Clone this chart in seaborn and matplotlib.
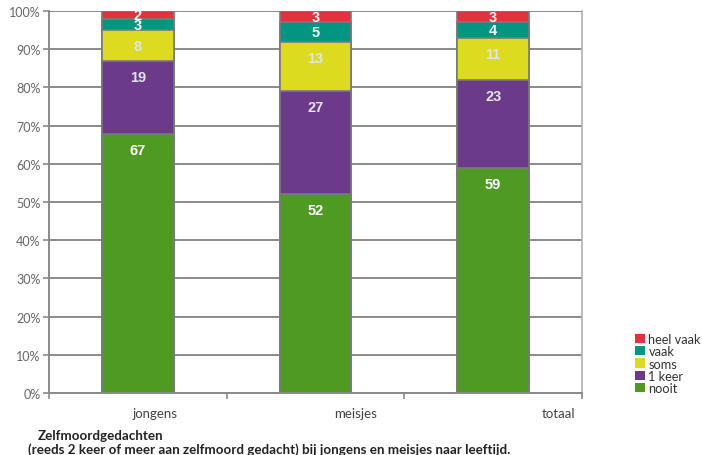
import numpy as np
import pandas as pd
import matplotlib
matplotlib.use("Agg")
import matplotlib.pyplot as plt
import seaborn as sns
from matplotlib.patches import Patch

categories = ["jongens", "meisjes", "totaal"]
series = ["nooit", "1 keer", "soms", "vaak", "heel vaak"]
nooit = [67, 52, 59]
een_keer = [19, 27, 23]
soms = [8, 13, 11]
vaak = [3, 5, 4]
heel_vaak = [2, 3, 3]
colors = ["#4e9a23", "#6b3a89", "#dcdb1f", "#009682", "#e4323c"]
label_colors = ["white", "#dde5f1", "#dde5f1", "white", "white"]
yticks = [0, 10, 20, 30, 40, 50, 60, 70, 80, 90, 100]
caption1 = "Zelfmoordgedachten"
caption2 = "(reeds 2 keer of meer aan zelfmoord gedacht) bij jongens en meisjes naar leeftijd."

sns.set_theme(style="white")
plt.rcParams['font.family'] = ['Lato', 'DejaVu Sans']

values = np.array([nooit, een_keer, soms, vaak, heel_vaak], dtype=float)
pct = values / values.sum(axis=0) * 100
tops = np.cumsum(pct, axis=0)

fig = plt.figure(figsize=(7.02, 4.56), dpi=100)
ax = fig.add_axes([49/702, 1-394/456, (582-49)/702, (394-12)/456])

grid_c = "#8a8a8a"
for yv in yticks:
    ax.axhline(yv, color=grid_c, lw=1.4, zorder=0)

for i in range(len(series) - 1, -1, -1):
    df = pd.DataFrame({"cat": categories, "top": tops[i]})
    sns.barplot(data=df, x="cat", y="top", order=categories, color=colors[i],
                width=0.405, edgecolor="#7a7a7a", linewidth=1.2, saturation=1,
                ax=ax, zorder=2)

px_per_pct = 382 / 100
for i in range(len(series)):
    for j in range(len(categories)):
        off = min(16 / px_per_pct, pct[i, j] / 2)
        ax.text(j, tops[i, j] - off, f"{int(values[i, j])}", ha="center", va="center",
                color=label_colors[i], fontsize=10.5, fontweight="bold",
                family=["Liberation Sans", "DejaVu Sans"], zorder=5)

ax.set_xlim(-0.5, 2.5)
ax.set_ylim(0, 100)
ax.set_xlabel("")
ax.set_ylabel("")
ax.set_yticks(yticks)
ax.set_yticklabels([f"{v}%" for v in yticks], color="#666666", fontsize=9)
ax.tick_params(axis="y", which="major", direction="out", length=4, width=1.2,
               color=grid_c, pad=2, left=True)
ax.set_xticks([-0.5, 0.5, 1.5, 2.5])
ax.set_xticklabels([])
ax.tick_params(axis="x", which="major", direction="out", length=4, width=1.2,
               color=grid_c, bottom=True)
ax.set_xticks([0.095, 1.225, 2.37], minor=True)
ax.set_xticklabels(categories, minor=True, color="#444444", fontsize=9.5)
ax.tick_params(axis="x", which="minor", length=0, pad=10)

for s in ["left", "bottom"]:
    ax.spines[s].set_color(grid_c)
    ax.spines[s].set_linewidth(1.4)
ax.spines["right"].set_color("#b0b0b0")
ax.spines["right"].set_linewidth(1.2)
ax.spines["top"].set_visible(False)

handles = [Patch(facecolor=colors[i], edgecolor="none", label=series[i])
           for i in range(len(series) - 1, -1, -1)]
fig.legend(handles=handles, loc="upper left", bbox_to_anchor=(635/702, 1-334/456),
           frameon=False, fontsize=9.2, handlelength=0.75, handleheight=0.75,
           labelspacing=0.02, handletextpad=0.3, borderaxespad=0, borderpad=0,
           labelcolor="#333333")

fig.text(38/702, 1-436/456, caption1, fontsize=9.6, fontweight="bold", color="#222222",
         va="center", ha="left")
fig.text(28/702, 1-450/456, caption2, fontsize=9.6, fontweight="bold", color="#222222",
         va="center", ha="left")

fig.savefig("out.png", dpi=100)
